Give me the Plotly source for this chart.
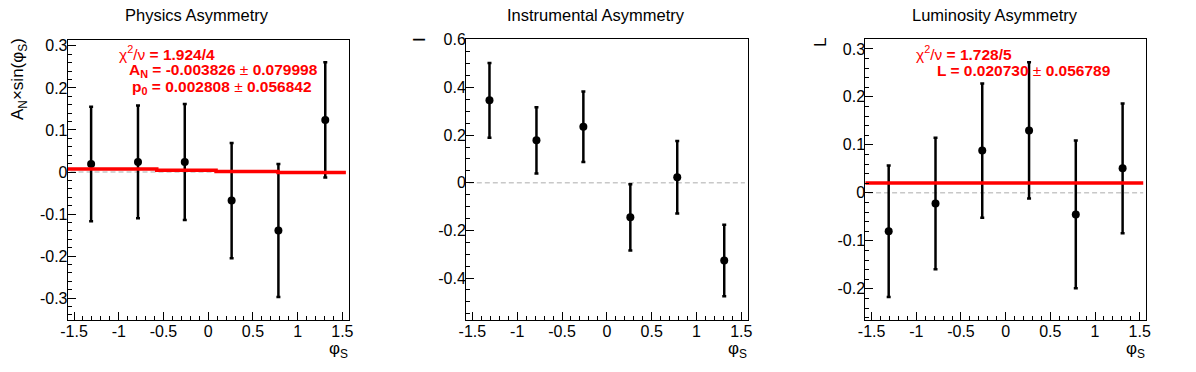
import plotly.graph_objects as go

# ---------------- data ----------------
phi_centers = [-1.309, -0.785, -0.262, 0.262, 0.785, 1.309]

phys_vals = [0.019, 0.024, 0.024, -0.068, -0.139, 0.124]
phys_errs = [0.136, 0.134, 0.138, 0.137, 0.158, 0.137]

instr_vals = [0.346, 0.178, 0.235, -0.145, 0.023, -0.326]
instr_errs = [0.157, 0.139, 0.148, 0.139, 0.152, 0.150]

lumi_vals = [-0.080, -0.022, 0.088, 0.130, -0.045, 0.051]
lumi_errs = [0.137, 0.137, 0.140, 0.142, 0.154, 0.135]

# fit curve of panel 1 as drawn (stepped)
phys_fit_x = [-1.571, -0.575, 0.088, 0.781, 1.539]
phys_fit_y = [0.007, 0.004, 0.0015, -0.001, -0.001]

lumi_fit_x = [-1.571, 1.54]
lumi_fit_y = [0.02073, 0.02073]

# tick values / labels
x_tickvals = [-1.5, -1.0, -0.5, 0.0, 0.5, 1.0, 1.5]
x_ticktext = ["-1.5", "-1", "-0.5", "0", "0.5", "1", "1.5"]
phys_ytickvals = [-0.3, -0.2, -0.1, 0.0, 0.1, 0.2, 0.3]
phys_yticktext = ["-0.3", "-0.2", "-0.1", "0", "0.1", "0.2", "0.3"]
instr_ytickvals = [-0.4, -0.2, 0.0, 0.2, 0.4, 0.6]
instr_yticktext = ["-0.4", "-0.2", "0", "0.2", "0.4", "0.6"]
lumi_ytickvals = [-0.2, -0.1, 0.0, 0.1, 0.2, 0.3]
lumi_yticktext = ["-0.2", "-0.1", "0", "0.1", "0.2", "0.3"]

titles = ["Physics Asymmetry", "Instrumental Asymmetry", "Luminosity Asymmetry"]
phys_stats = ["χ<sup>2</sup>/ν<b> = 1.924/4</b>",
              "<b>A<sub>N</sub> = -0.003826 </b>±<b> 0.079998</b>",
              "<b>p<sub>0</sub> = 0.002808 </b>±<b> 0.056842</b>"]
lumi_stats = ["χ<sup>2</sup>/ν<b> = 1.728/5</b>",
              "<b>L = 0.020730 </b>±<b> 0.056789</b>"]

# ---------------- layout helpers ----------------
W, H = 1196, 372
FONT = "Liberation Sans, Arial, Helvetica, sans-serif"


def px(x):
    return x / W


def py(y):
    return 1 - y / H


frames = [  # left, right, top, bottom in pixels
    (67.7, 348.7, 40.0, 320.0),
    (466.0, 747.7, 39.3, 320.0),
    (865.3, 1146.0, 39.3, 320.0),
]
yranges = [[-0.352, 0.314], [-0.576, 0.602], [-0.265, 0.320]]
yticks = [(phys_ytickvals, phys_yticktext), (instr_ytickvals, instr_yticktext),
          (lumi_ytickvals, lumi_yticktext)]
yminor = [0.02, 0.05, 0.02]

fig = go.Figure()

series = [(phys_vals, phys_errs), (instr_vals, instr_errs), (lumi_vals, lumi_errs)]

for i, (vals, errs) in enumerate(series):
    xa = "x" if i == 0 else f"x{i+1}"
    ya = "y" if i == 0 else f"y{i+1}"
    fig.add_trace(go.Scatter(
        x=phi_centers, y=vals, mode="markers",
        marker=dict(color="black", size=8),
        error_y=dict(type="data", array=errs, visible=True, color="black",
                     thickness=2.5, width=2),
        xaxis=xa, yaxis=ya, showlegend=False, cliponaxis=False))

fig.add_trace(go.Scatter(x=phys_fit_x, y=phys_fit_y, mode="lines",
                         line=dict(color="red", width=3.5, shape="hv"),
                         xaxis="x", yaxis="y", showlegend=False))
fig.add_trace(go.Scatter(x=lumi_fit_x, y=lumi_fit_y, mode="lines",
                         line=dict(color="red", width=3.5),
                         xaxis="x3", yaxis="y3", showlegend=False))

layout = dict(
    width=W, height=H,
    margin=dict(l=0, r=0, t=0, b=0, autoexpand=False),
    paper_bgcolor="white", plot_bgcolor="white",
    font=dict(family=FONT, color="black", size=16),
    showlegend=False,
)

for i, (l, r, t, b) in enumerate(frames):
    suf = "" if i == 0 else str(i + 1)
    layout["xaxis" + suf] = dict(
        domain=[px(l), px(r)], anchor="y" + suf, range=[-1.5708, 1.5708],
        showline=True, linecolor="black", linewidth=1, mirror=True,
        showgrid=False, zeroline=False, automargin=False,
        ticks="inside", ticklen=8, tickwidth=1, tickcolor="black",
        tickmode="array", tickvals=x_tickvals, ticktext=x_ticktext,
        ticklabelstandoff=-3,
        minor=dict(ticks="inside", ticklen=4, dtick=0.1, tick0=0, tickcolor="black",
                   showgrid=False),
        tickfont=dict(size=16, family=FONT), fixedrange=True,
    )
    tv, tt = yticks[i]
    layout["yaxis" + suf] = dict(
        domain=[py(b), py(t)], anchor="x" + suf, range=yranges[i],
        showline=True, linecolor="black", linewidth=1, mirror=True,
        showgrid=False, zeroline=False, automargin=False,
        ticks="inside", ticklen=8, tickwidth=1, tickcolor="black",
        tickmode="array", tickvals=tv, ticktext=tt,
        ticklabelstandoff=-4,
        minor=dict(ticks="inside", ticklen=4, dtick=yminor[i], tick0=0, tickcolor="black",
                   showgrid=False),
        tickfont=dict(size=16, family=FONT), fixedrange=True,
    )

fig.update_layout(**layout)

# dashed zero lines
for i in range(3):
    suf = "" if i == 0 else str(i + 1)
    fig.add_shape(type="line", xref=f"x{suf} domain", yref=f"y{suf}",
                  x0=0.01, x1=0.99, y0=0, y1=0,
                  line=dict(color="#c8c8c8", width=1.5, dash="5px,3px"), layer="below")

ann = []
title_x = [197, 596, 995]
for tx, tt in zip(title_x, titles):
    ann.append(dict(x=px(tx), y=py(15), xref="paper", yref="paper", text=tt,
                    showarrow=False, xanchor="center", yanchor="middle",
                    font=dict(size=16.5, family=FONT, color="black")))

# stats boxes
phys_pos = [(117, 53), (127, 70), (130, 87)]
for (sx, sy), st in zip(phys_pos, phys_stats):
    ann.append(dict(x=px(sx), y=py(sy), xref="paper", yref="paper", text=st,
                    showarrow=False, xanchor="left", yanchor="middle",
                    font=dict(size=15.5, family=FONT, color="red")))
lumi_pos = [(914, 53), (935, 70)]
for (sx, sy), st in zip(lumi_pos, lumi_stats):
    ann.append(dict(x=px(sx), y=py(sy), xref="paper", yref="paper", text=st,
                    showarrow=False, xanchor="left", yanchor="middle",
                    font=dict(size=15.5, family=FONT, color="red")))

# y axis titles
ylab = [("A<sub>N</sub>×sin(φ<sub>S</sub>)", 19, 79), ("I", 419, 40), ("L", 820, 43)]
for t, lx, ly in ylab:
    ann.append(dict(x=px(lx), y=py(ly), xref="paper", yref="paper", text=t,
                    showarrow=False, xanchor="center", yanchor="middle", textangle=-90,
                    font=dict(size=17, family=FONT, color="black")))

# x axis titles
for rx in [350, 748.7, 1147]:
    ann.append(dict(x=px(rx), y=py(350), xref="paper", yref="paper", text="φ<sub>S</sub>",
                    showarrow=False, xanchor="right", yanchor="middle",
                    font=dict(size=17, family=FONT, color="black")))

fig.update_layout(annotations=ann)

fig.write_html("out.html", config={"displayModeBar": False},
               post_script="document.body.style.margin='0px';document.body.style.overflow='hidden';")
